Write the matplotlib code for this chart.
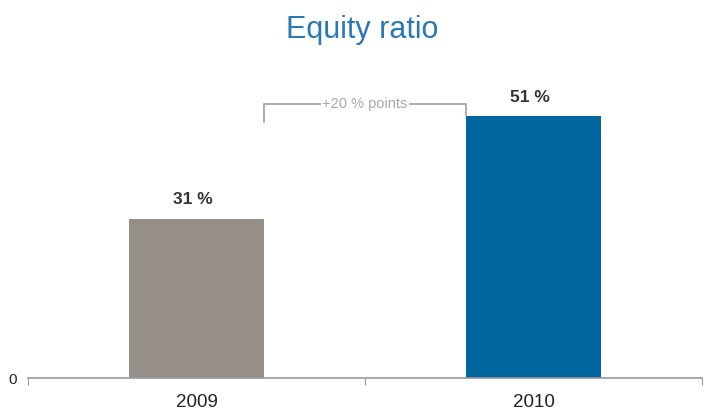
import matplotlib.pyplot as plt

# equity ratio by year
years = ["2009", "2010"]
equity_pct = [31, 51]
bar_colors = ["#968e88", "#0066a0"]
change_label = "+20 % points"

plt.rcParams['font.family'] = ['Liberation Sans', 'DejaVu Sans']

fig = plt.figure(figsize=(7.04, 4.12), dpi=100)
ax = fig.add_axes([28/704, 34/412, 674/704, 318/412])

x = range(len(years))
ax.bar(x, equity_pct, width=0.4, color=bar_colors, zorder=2)

for i, v in enumerate(equity_pct):
    ax.text(i - 0.01, v + 2.3, "%d %%" % v, ha="center", va="bottom",
            fontsize=12.5, fontweight="bold", color="#333333")

ax.set_xlim(-0.5, 1.5)
ax.set_ylim(0, 62)

# bracket between the two bars
y_br = 53.5
x0 = 0.2
x1 = 0.8
ax.plot([x0, x0, x1, x1], [equity_pct[0] + 19, y_br, y_br, equity_pct[1] + 0.2],
        color="#a0a0a0", lw=1.2, solid_joinstyle="miter", zorder=1)
ax.text((x0 + x1) / 2, y_br, change_label, ha="center", va="center",
        fontsize=10.5, color="#a8a8a8",
        bbox=dict(facecolor="white", edgecolor="none", pad=1), zorder=3)

fig.text(362/704, 1 - 30/412, "Equity ratio", ha="center", va="center",
         fontsize=22, color="#2a78b5")

for s in ["top", "right", "left"]:
    ax.spines[s].set_visible(False)
ax.spines["bottom"].set_color("#999999")
ax.spines["bottom"].set_linewidth(1.2)

ax.set_xticks([-0.5, 0.5, 1.5])
ax.set_xticklabels([])
ax.tick_params(axis="x", length=5, color="#999999", direction="out")
for i, yr in enumerate(years):
    ax.text(i, -3.2, yr, ha="center", va="top", fontsize=13.5, color="#222222",
            clip_on=False)

ax.set_yticks([0])
ax.set_yticklabels(["0"])
ax.tick_params(axis="y", length=0, labelsize=11, colors="#222222", pad=8)

fig.savefig("out.png", dpi=100)
